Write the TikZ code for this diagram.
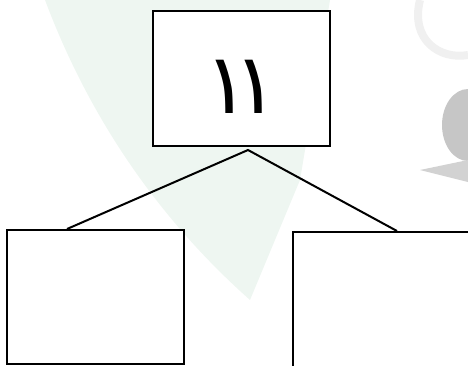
\documentclass[tikz,border=0pt]{standalone}
\usepackage{fontspec}
\TeXXeTstate=1
\newfontfamily\arabicfont[Script=Arabic]{DejaVu Sans}
\definecolor{leafgreen}{RGB}{238,246,241}
\tikzset{
  panel/.style={draw, line width=2pt, fill=white, minimum width=177pt, inner sep=0pt},
  link/.style={line width=2pt}
}
\begin{document}
\begin{tikzpicture}[x=1pt, y=-1pt]
\useasboundingbox (0,0) rectangle (468,365);
% faint background marks
\fill[leafgreen] (45,0) .. controls (90,120) and (160,220) .. (250,300) -- (300,180) -- (330,0) -- cycle;
\fill[gray!45] (468,125) ellipse [x radius=26pt, y radius=36pt];
\fill[gray!35] (420,170) -- (468,160) -- (468,182) -- cycle;
\draw[gray!12, line width=8pt] (420,0) .. controls (410,40) and (440,60) .. (468,55);

\node[panel, minimum height=135pt] at (241.5,78.5) (top) {\raisebox{-8.5pt}[\height][\depth]{\fontsize{84}{84}\selectfont\arabicfont\beginR ١\kern-16pt١\endR}};
\node[panel, minimum height=134pt] at (95.5,297) (left) {};
\node[panel, minimum height=140pt] at (381.5,302) (right) {};

\coordinate (apex) at (248,150);
\coordinate (leftend) at ([xshift=61pt]left.north west);
\coordinate (rightend) at ([xshift=105pt]right.north west);
\draw[link] (leftend) -- (apex) -- (rightend);
\end{tikzpicture}
\end{document}
